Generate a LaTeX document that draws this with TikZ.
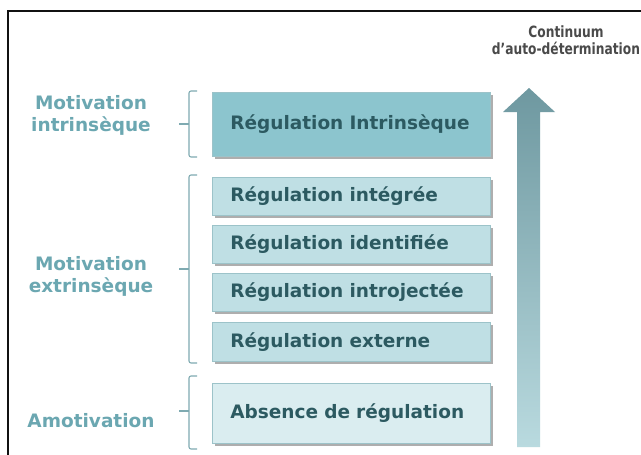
\documentclass[tikz,border=0pt]{standalone}
\usepackage{fontspec}
\setmainfont{DejaVu Sans}
\usetikzlibrary{shadows}
\definecolor{frameblk}{HTML}{111111}
\definecolor{boxA}{HTML}{8CC5CE}
\definecolor{boxB}{HTML}{BFDFE4}
\definecolor{boxC}{HTML}{DAEDF0}
\definecolor{boxedge}{HTML}{9CC3C9}
\definecolor{boxtext}{HTML}{2C5A61}
\definecolor{labeltext}{HTML}{6BA7B1}
\definecolor{bracecol}{HTML}{7FAAB1}
\definecolor{titletext}{HTML}{4A4A4A}
\definecolor{arrowtop}{HTML}{6E98A0}
\definecolor{arrowbot}{HTML}{B9DADF}
\tikzset{
  regbox/.style={anchor=north west, draw=boxedge, line width=0.6pt,
    inner xsep=18pt, inner ysep=0pt, text width=242pt, align=left,
    font=\fontsize{18.5}{22}\selectfont\bfseries, text=boxtext,
    drop shadow={shadow xshift=3pt, shadow yshift=-3pt, fill=black!45, opacity=0.7}},
  lbl/.style={align=center, font=\fontsize{18.5}{22}\selectfont\bfseries, text=labeltext, inner sep=0pt},
  bracket/.style={draw=bracecol, line width=1.1pt, rounded corners=2pt},
}
\begin{document}
\begin{tikzpicture}[x=1pt, y=-1pt]
\useasboundingbox (0,0) rectangle (641,455);
\fill[white] (0,0) rectangle (641,455);
% frame
\draw[frameblk, line width=2pt] (8,460) -- (8,11) -- (650,11);
% title
\node[align=center, font=\fontsize{15.5}{17.5}\selectfont\bfseries, text=titletext, inner sep=0pt] (title) at (566,40)
  {\scalebox{0.79}[1]{Continuum}\\\scalebox{0.79}[1]{d'auto-détermination}};
% arrow
\coordinate (tip) at (529,88);
\shade[top color=arrowtop, bottom color=arrowbot, draw=none]
  (tip) -- (555,112) -- (540,112) -- (540,447) -- (517,447) -- (517,112) -- (503,112) -- cycle;
% boxes
\node[regbox, fill=boxA, minimum height=64pt] (b1) at (212,92) {Régulation Intrinsèque};
\node[regbox, fill=boxB, minimum height=38pt] (b2) at (212,177) {Régulation intégrée};
\node[regbox, fill=boxB, minimum height=38pt] (b3) at (212,225) {Régulation identifiée};
\node[regbox, fill=boxB, minimum height=38pt] (b4) at (212,273) {Régulation introjectée};
\node[regbox, fill=boxB, minimum height=39pt] (b5) at (212,322) {Régulation externe};
\node[regbox, fill=boxC, minimum height=60pt] (b6) at (212,383) {Absence de régulation};
% brackets
\draw[bracket] (197,91) -- (189,91) -- (189,157) -- (197,157);
\draw[bracecol, line width=1.1pt] (189,124) -- (179,124);
\draw[bracket] (197,175) -- (189,175) -- (189,363) -- (197,363);
\draw[bracecol, line width=1.1pt] (189,269) -- (179,269);
\draw[bracket] (197,376) -- (189,376) -- (189,449) -- (197,449);
\draw[bracecol, line width=1.1pt] (189,411) -- (179,411);
% labels
\node[lbl] (l1) at (91,115) {Motivation\\intrinsèque};
\node[lbl] (l2) at (91,276) {Motivation\\extrinsèque};
\node[lbl] (l3) at (91,421) {Amotivation};
\end{tikzpicture}
\end{document}
